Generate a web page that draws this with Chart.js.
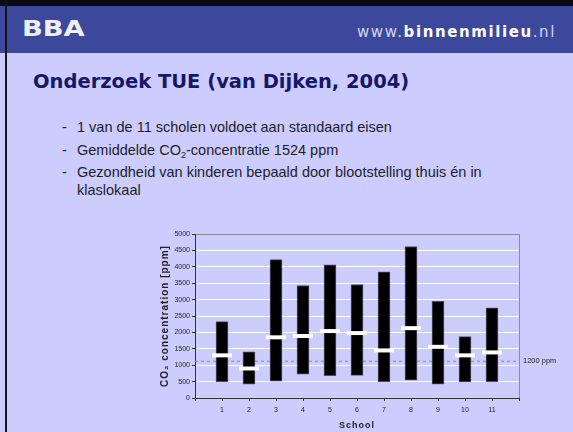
<!DOCTYPE html>
<html>
<head>
<meta charset="utf-8">
<script src="https://cdn.jsdelivr.net/npm/chart.js@4/dist/chart.umd.min.js"></script>
<style>
  html, body { margin: 0; padding: 0; }
  body {
    width: 573px; height: 432px; position: relative; overflow: hidden;
    background: #ccccff;
    font-family: "Liberation Sans", Arial, sans-serif;
  }
  #topline  { position: absolute; left: 0; top: 0; width: 573px; height: 6px; background: #0b0b16; }
  #header   { position: absolute; left: 0; top: 6px; width: 573px; height: 47px; background: #3b489b; }
  #leftline { position: absolute; left: 5px; top: 0; width: 2px; height: 432px; background: #14141c; }
  #logo {
    position: absolute; left: 22px; top: 17px; line-height: 22px;
    font: bold 21px "DejaVu Sans", sans-serif; color: #f0f0fa;
    transform: scaleX(1.3); transform-origin: left center;
  }
  #url {
    position: absolute; right: 17px; top: 23px; line-height: 15px;
    font: 15px "DejaVu Sans", sans-serif; color: #d4d4ea; letter-spacing: 1.6px;
  }
  #url b { color: #ffffff; }
  #title {
    position: absolute; left: 33px; top: 70px; line-height: 24px;
    font: bold 19.5px "DejaVu Sans", sans-serif; color: #16166a;
  }
  .item {
    position: absolute; left: 77px; width: 420px;
    font-size: 14.5px; line-height: 18px; color: #1e1e28;
  }
  .item::before { content: "-"; position: absolute; left: -15px; }
  .item sub { font-size: 9px; vertical-align: -3px; line-height: 0; }
  #chartbox { position: absolute; left: 140px; top: 220px; width: 433px; height: 212px; }
</style>
</head>
<body>
<div id="header"></div>
<div id="topline"></div>
<div id="leftline"></div>
<div id="logo">BBA</div>
<div id="url">www.<b>binnenmilieu</b>.nl</div>
<div id="title">Onderzoek TUE (van Dijken, 2004)</div>
<div class="item" style="top:118px">1 van de 11 scholen voldoet aan standaard eisen</div>
<div class="item" style="top:141px">Gemiddelde CO<sub>2</sub>-concentratie 1524 ppm</div>
<div class="item" style="top:163px">Gezondheid van kinderen bepaald door blootstelling thuis én in<br>klaslokaal</div>
<div id="chartbox"><canvas id="chart" width="433" height="212"></canvas></div>

<script>
// schools (empty slots at both ends give the half-gap before 1 and after 11)
const schools = ['', '1', '2', '3', '4', '5', '6', '7', '8', '9', '10', '11', ''];
const minCO2  = [null, 500, 420, 510, 730, 680, 690, 500, 540, 420, 490, 500, null];
const maxCO2  = [null, 2330, 1410, 4220, 3430, 4060, 3460, 3850, 4620, 2950, 1870, 2750, null];
const meanCO2 = [null, 1300, 900, 1850, 1890, 2040, 1980, 1450, 2130, 1560, 1300, 1390, null];

const limitValue = 1120;
const limitLabel = '1200 ppm';

const yMin  = 0;
const yMax  = 5000;
const yStep = 500;

const FONT = '"Liberation Sans", Arial, sans-serif';

var ranges = minCO2.map(function (v, i) {
  return v == null ? null : [v, maxCO2[i]];
});

var limitLine = schools.map(function () { return limitValue; });

const limitLabelPlugin = {
  id: 'limitLabel',
  afterDatasetsDraw(chart) {
    var ctx = chart.ctx;
    var y = chart.scales.y.getPixelForValue(limitValue);
    ctx.save();
    ctx.font = '7.5px ' + FONT;
    ctx.fillStyle = '#222';
    ctx.textBaseline = 'middle';
    ctx.fillText(limitLabel, chart.chartArea.right + 4, y);
    ctx.restore();
  }
};

// axis titles in the original are spaced out a little
const spacedTitles = {
  id: 'spacedTitles',
  beforeDraw(chart) {
    Object.values(chart.scales).forEach(function (s) {
      if (s._spaced) return;
      var orig = s.drawTitle;
      s.drawTitle = function () {
        this.ctx.save();
        this.ctx.letterSpacing = '1px';
        orig.call(this);
        this.ctx.restore();
      };
      s._spaced = true;
    });
  }
};

new Chart(document.getElementById('chart'), {
  type: 'bar',
  data: {
    labels: schools,
    datasets: [
      {
        type: 'line',
        data: meanCO2,
        showLine: false,
        pointStyle: 'line',
        pointRadius: 10,
        pointHoverRadius: 10,
        pointBorderWidth: 4,
        pointBorderColor: '#ffffff',
        order: 0
      },
      {
        data: ranges,
        backgroundColor: '#000000',
        borderColor: '#50505c',
        borderWidth: 1,
        borderSkipped: false,
        barThickness: 12,
        order: 1
      },
      {
        type: 'line',
        data: limitLine,
        borderColor: '#8a8aa0',
        borderWidth: 1,
        borderDash: [3, 3],
        pointRadius: 0,
        order: 2
      }
    ]
  },
  options: {
    responsive: false,
    animation: false,
    devicePixelRatio: 1,
    layout: { padding: { top: 10, right: 54, left: 0, bottom: 0 } },
    plugins: {
      legend: { display: false },
      tooltip: { enabled: false }
    },
    scales: {
      x: {
        type: 'category',
        offset: false,
        grid: {
          offset: false,
          drawOnChartArea: true,
          color: function (c) { return c.index === schools.length - 1 ? '#8a8a9a' : 'rgba(0,0,0,0)'; },
          tickColor: '#333',
          tickLength: 3
        },
        border: { color: '#333', width: 1 },
        ticks: {
          autoSkip: false, maxRotation: 0, padding: 5,
          color: '#222', font: { family: FONT, size: 7 }
        },
        title: {
          display: true, text: 'School', color: '#222',
          font: { family: FONT, size: 9, weight: 'bold' },
          padding: { top: 0, bottom: 1 }
        },
        afterFit: function (s) { s.height = 34; }
      },
      y: {
        min: yMin, max: yMax,
        grid: {
          color: function (c) {
            if (c.tick.value === yMax) return '#8a8a9a';
            if (c.tick.value === yMin) return 'rgba(0,0,0,0)';
            return '#ffffff';
          },
          tickColor: '#333',
          tickLength: 3
        },
        border: { color: '#333', width: 1 },
        ticks: {
          stepSize: yStep, padding: 2,
          color: '#222', font: { family: FONT, size: 7 },
          callback: function (v) { return String(v); }
        },
        title: {
          display: true, text: 'CO₂ concentration [ppm]', color: '#222',
          font: { family: FONT, size: 10, weight: 'bold' },
          padding: { top: 19, bottom: 0 }
        },
        afterFit: function (s) { s.width = 55; }
      }
    }
  },
  plugins: [limitLabelPlugin, spacedTitles]
});
</script>
</body>
</html>
